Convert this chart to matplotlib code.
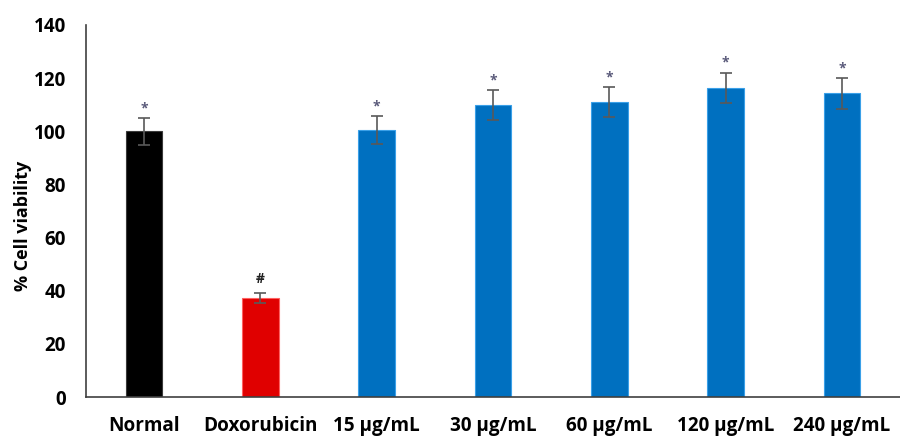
import matplotlib.pyplot as plt
import numpy as np

plt.rcParams["font.family"] = ["Open Sans", "DejaVu Sans"]
plt.rcParams["font.weight"] = "bold"

groups = ["Normal", "Doxorubicin", "15 µg/mL", "30 µg/mL", "60 µg/mL", "120 µg/mL", "240 µg/mL"]
viability = [100.0, 37.2, 100.5, 110.0, 111.0, 116.3, 114.3]
sd = [5.0, 1.9, 5.3, 5.6, 5.6, 5.8, 5.8]
marks = ["*", "#", "*", "*", "*", "*", "*"]
colors = ["#000000", "#E00000", "#0070C0", "#0070C0", "#0070C0", "#0070C0", "#0070C0"]
edges = ["#3a3a3a", "#ff6060", "#3aa0e8", "#3aa0e8", "#3aa0e8", "#3aa0e8", "#3aa0e8"]

fig = plt.figure(figsize=(9, 4.38), dpi=100)
ax = fig.add_axes([0.0956, 0.0936, 0.9044, 0.8494])

x = np.arange(len(groups))
ax.bar(x, viability, width=0.315, color=colors, edgecolor=edges, linewidth=0.8, zorder=2)
ax.errorbar(x, viability, yerr=sd, fmt="none", ecolor="#595959", elinewidth=1.2,
            capsize=4, capthick=1.2, zorder=3)

for xi, v, e, m in zip(x, viability, sd, marks):
    if m == "*":
        ax.text(xi, v + e + 1.0, m, ha="center", va="bottom", fontsize=10,
                color="#5a5a7a", fontweight="bold")
    else:
        ax.text(xi, v + e + 2.5, m, ha="center", va="bottom", fontsize=10,
                color="#222222", fontweight="bold")

ax.set_xlim(-0.5, len(groups) - 0.5)
ax.set_ylim(0, 140)
ax.set_yticks(np.arange(0, 141, 20))
ax.set_xticks(x)
ax.set_xticklabels(groups)
ax.tick_params(axis="both", length=0, labelsize=13.6)
ax.tick_params(axis="y", pad=14.4)
ax.tick_params(axis="x", pad=14)
ax.set_ylabel("% Cell viability", fontsize=13, fontweight="bold")
ax.yaxis.set_label_coords(-0.0663, 0.46)

for side in ("top", "right"):
    ax.spines[side].set_visible(False)
for side in ("left", "bottom"):
    ax.spines[side].set_color("#3f3f3f")
    ax.spines[side].set_linewidth(1.2)

fig.savefig("out.png", dpi=100)
